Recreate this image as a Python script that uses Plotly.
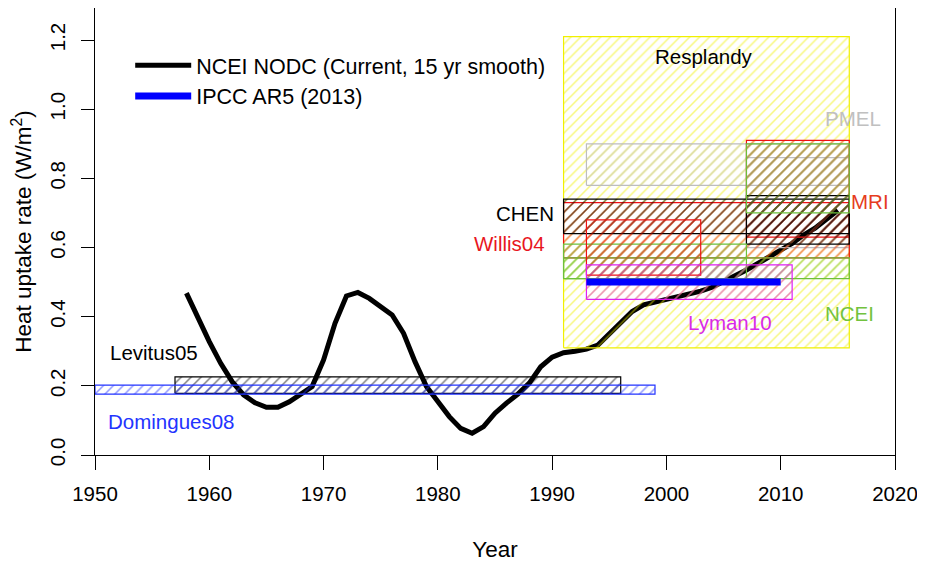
import plotly.graph_objects as go

# ---- data ----
years = list(range(1958, 2016))
ncei_nodc = [0.468, 0.395, 0.328, 0.265, 0.212, 0.174, 0.151, 0.138, 0.138, 0.154,
             0.178, 0.198, 0.275, 0.381, 0.460, 0.470, 0.453, 0.429, 0.405, 0.352,
             0.270, 0.198, 0.154, 0.111, 0.077, 0.063, 0.082, 0.121, 0.150, 0.176,
             0.208, 0.255, 0.283, 0.296, 0.300, 0.306, 0.318, 0.352, 0.385, 0.415,
             0.434, 0.442, 0.448, 0.458, 0.466, 0.474, 0.485, 0.501, 0.516, 0.535,
             0.554, 0.573, 0.595, 0.612, 0.636, 0.656, 0.682, 0.708]
ipcc_years = [1993, 2010]
ipcc_rate = [0.50, 0.50]

box_names = ["Levitus05", "Domingues08", "Resplandy", "PMEL", "PMEL", "MRI", "MRI",
             "CHEN", "CHEN", "NCEI", "NCEI", "NCEI", "Willis04", "Lyman10"]
box_start = [1957, 1950, 1991, 1993, 2007, 1991, 2007, 1991, 2007, 1991, 1991, 2007, 1993, 1993]
box_end = [1996, 1999, 2016, 2016, 2016, 2016, 2016, 2016, 2016, 2016, 2007, 2016, 2003, 2011]
box_low = [0.178, 0.176, 0.31, 0.78, 0.60, 0.57, 0.63, 0.64, 0.61, 0.51, 0.51, 0.70, 0.52, 0.45]
box_high = [0.226, 0.202, 1.21, 0.90, 0.86, 0.73, 0.91, 0.74, 0.75, 0.57, 0.61, 0.90, 0.68, 0.55]
box_colors = ["#000000", "#2233ff", "#f0f000", "#bdbdbd", "#bdbdbd", "#ee1111", "#ee1111",
              "#000000", "#000000", "#6cc03a", "#6cc03a", "#6cc03a", "#ee1111", "#e020f0"]

label_text = ["Resplandy", "PMEL", "MRI", "CHEN", "Willis04", "NCEI", "Lyman10",
              "Levitus05", "Domingues08"]
label_x = [2003.3, 2016.3, 2017.8, 1987.6, 1986.3, 2016.0, 2005.6, 1955.2, 1956.7]
label_y = [1.152, 0.974, 0.733, 0.699, 0.612, 0.41, 0.383, 0.297, 0.098]
label_color = ["#000000", "#c0c0c0", "#e63c1e", "#000000", "#e8161e", "#72c23e",
               "#d82ae8", "#000000", "#2233ff"]

x_ticks = [1950, 1960, 1970, 1980, 1990, 2000, 2010, 2020]
y_ticks = [0.0, 0.2, 0.4, 0.6, 0.8, 1.0, 1.2]
y_tick_text = ["0.0", "0.2", "0.4", "0.6", "0.8", "1.0", "1.2"]

FONT = "Liberation Sans, Arial, Helvetica, sans-serif"

fig = go.Figure()

# smoothed curve (drawn first; boxes overlay it as in the original)
fig.add_trace(go.Scatter(x=years, y=ncei_nodc, mode="lines",
                         line=dict(color="black", width=5),
                         name="NCEI NODC (Current, 15 yr smooth)"))

for i in range(len(box_names)):
    x0, x1, y0, y1 = box_start[i], box_end[i], box_low[i], box_high[i]
    c = box_colors[i]
    fig.add_trace(go.Scatter(
        x=[x0, x1, x1, x0, x0], y=[y0, y0, y1, y1, y0],
        mode="lines", fill="toself",
        line=dict(color=c, width=1.2),
        fillcolor="rgba(0,0,0,0)",
        fillpattern=dict(shape="/", fgcolor=c, bgcolor="rgba(0,0,0,0)",
                         size=7, solidity=0.22),
        showlegend=False, hoverinfo="skip", name=box_names[i]))

fig.add_trace(go.Scatter(x=ipcc_years, y=ipcc_rate, mode="lines",
                         line=dict(color="#0000ff", width=7),
                         name="IPCC AR5 (2013)"))

for t, x, y, c in zip(label_text, label_x, label_y, label_color):
    fig.add_annotation(x=x, y=y, text=t, showarrow=False,
                       font=dict(family=FONT, size=20.5, color=c),
                       xanchor="center", yanchor="middle")

# page has an 8px body margin: figure is sized/offset to compensate
fig.update_layout(
    width=917, height=559,
    margin=dict(l=87, r=30, t=0, b=112, autoexpand=False),
    paper_bgcolor="white", plot_bgcolor="white",
    font=dict(family=FONT, size=20.5, color="black"),
    showlegend=True,
    legend=dict(x=0.044, y=0.918, xanchor="left", yanchor="top",
                bgcolor="rgba(0,0,0,0)", borderwidth=0,
                font=dict(family=FONT, size=21.5, color="black"),
                tracegroupgap=0, itemwidth=56),
    xaxis=dict(range=[1950, 2020], tickvals=x_ticks, ticks="outside", ticklen=14,
               tickcolor="black", showline=True, mirror=True, linecolor="black",
               linewidth=1, showgrid=False, zeroline=False, automargin=False,
               ticklabelstandoff=6,
               title=dict(text="Year", standoff=37,
                          font=dict(family=FONT, size=22.5))),
    yaxis=dict(range=[0, 1.2927], tickvals=y_ticks, ticktext=y_tick_text, tickangle=-90,
               ticks="outside", ticklen=13, tickcolor="black", showline=True,
               mirror=True, linecolor="black", linewidth=1, showgrid=False,
               zeroline=False, automargin=False, ticklabelstandoff=8,
               title=dict(text="Heat uptake rate (W/m<sup>2</sup>)", standoff=10,
                          font=dict(family=FONT, size=22.5))),
)

fig.write_html("out.html")
